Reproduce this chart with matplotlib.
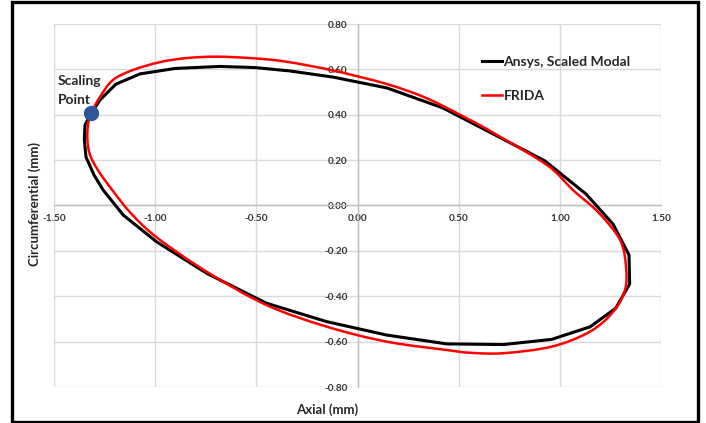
import matplotlib
matplotlib.use("Agg")
import matplotlib.pyplot as plt
from matplotlib.patches import Rectangle, PathPatch
from matplotlib.path import Path

plt.rcParams['font.family'] = ['Lato', 'DejaVu Sans']

# Ansys, Scaled Modal (polyline, clockwise from scaling point)
ansys_x = [-1.315, -1.273, -1.194, -1.075, -0.902, -0.680, -0.507, -0.334, -0.121, 0.146,
           0.422, 0.680, 0.927, 1.129, 1.263, 1.342, 1.345, 1.276, 1.149, 0.960,
           0.721, 0.441, 0.144, -0.152, -0.449, -0.745, -0.993, -1.158, -1.257, -1.302,
           -1.342, -1.350, -1.347, -1.315]
ansys_y = [0.408, 0.465, 0.535, 0.580, 0.604, 0.613, 0.608, 0.593, 0.566, 0.518,
           0.430, 0.311, 0.196, 0.051, -0.082, -0.218, -0.346, -0.453, -0.535, -0.590,
           -0.613, -0.610, -0.571, -0.512, -0.431, -0.299, -0.160, -0.042, 0.068, 0.134,
           0.214, 0.289, 0.355, 0.408]

# FRIDA (smooth orbit)
frida_x = [-1.315, -1.273, -1.209, -1.110, -0.976, -0.843, -0.695, -0.517, -0.353, -0.121,
           0.146, 0.344, 0.556, 0.670, 0.937, 1.065, 1.189, 1.298, 1.327, 1.322,
           1.264, 1.149, 0.960, 0.721, 0.556, 0.441, 0.144, -0.152, -0.449, -0.745,
           -0.993, -1.120, -1.212, -1.283, -1.322, -1.335, -1.332, -1.315]
frida_y = [0.408, 0.478, 0.553, 0.597, 0.632, 0.650, 0.656, 0.649, 0.634, 0.595,
           0.535, 0.472, 0.377, 0.321, 0.178, 0.068, -0.029, -0.152, -0.270, -0.372,
           -0.468, -0.556, -0.622, -0.651, -0.649, -0.637, -0.600, -0.534, -0.439, -0.292,
           -0.140, -0.034, 0.068, 0.156, 0.223, 0.289, 0.355, 0.408]

scaling_x = [-1.315]
scaling_y = [0.408]

x_ticks = [-1.5, -1.0, -0.5, 0.0, 0.5, 1.0, 1.5]
y_ticks = [-0.8, -0.6, -0.4, -0.2, 0.0, 0.2, 0.4, 0.6, 0.8]


def smooth_closed_path(xs, ys):
    """Smoothed line (like a spreadsheet 'smoothed line') through the points."""
    pts = list(zip(xs, ys))[:-1]  # drop duplicated closing point
    n = len(pts)
    verts = [pts[0]]
    codes = [Path.MOVETO]
    for i in range(n):
        p0 = pts[(i - 1) % n]
        p1 = pts[i]
        p2 = pts[(i + 1) % n]
        p3 = pts[(i + 2) % n]
        c1 = (p1[0] + (p2[0] - p0[0]) / 6, p1[1] + (p2[1] - p0[1]) / 6)
        c2 = (p2[0] - (p3[0] - p1[0]) / 6, p2[1] - (p3[1] - p1[1]) / 6)
        verts += [c1, c2, p2]
        codes += [Path.CURVE4] * 3
    return Path(verts, codes)


W, H = 706, 423
fig = plt.figure(figsize=(W / 100, H / 100), dpi=100)
ax = fig.add_axes([54 / W, 1 - 387 / H, (661 - 54) / W, (387 - 24) / H])

ax.set_xlim(-1.5, 1.5)
ax.set_ylim(-0.8, 0.8)
ax.set_xticks(x_ticks)
ax.set_yticks(y_ticks)
ax.set_xticklabels([f"{v:.2f}" for v in x_ticks])
ax.set_yticklabels([f"{v:.2f}" for v in y_ticks])

ax.grid(True, color='#d9d9d9', linewidth=1.0, zorder=0)
ax.set_axisbelow(True)
for s in ['top', 'right']:
    ax.spines[s].set_visible(False)
ax.spines['left'].set_position(('data', 0))
ax.spines['bottom'].set_position(('data', 0))
for s in ['left', 'bottom']:
    ax.spines[s].set_color('#bfbfbf')
    ax.spines[s].set_linewidth(1.0)

ax.tick_params(axis='both', length=0, labelsize=7.2, labelcolor='#333333')
ax.tick_params(axis='x', pad=6)
ax.tick_params(axis='y', pad=7)
for lbl in ax.get_xticklabels() + ax.get_yticklabels():
    lbl.set_fontweight('bold')

ax.plot(ansys_x, ansys_y, color='black', linewidth=2.2, label='Ansys, Scaled Modal',
        solid_joinstyle='round', zorder=3)
frida_patch = PathPatch(smooth_closed_path(frida_x, frida_y), facecolor='none',
                        edgecolor='#ff0000', linewidth=1.8, zorder=4,
                        transform=ax.transData)
ax.add_patch(frida_patch)
ax.plot([], [], color='#ff0000', linewidth=1.8, label='FRIDA')
ax.plot(scaling_x, scaling_y, 'o', color='#2f5597', markersize=10, zorder=5, clip_on=False)

leg = ax.legend(loc='upper left', bbox_to_anchor=(0.705, 0.912), frameon=False,
                handlelength=1.45, handletextpad=0.1, labelspacing=1.6,
                borderpad=0, borderaxespad=0,
                prop={'family': 'Lato', 'weight': 'bold', 'size': 10})
for t in leg.get_texts():
    t.set_color('#262626')

fig.text(58 / W, 1 - 90.5 / H, "Scaling\nPoint", ha='left', va='center',
         fontsize=10, fontweight='bold', color='#262626', linespacing=1.75)

fig.text(327 / W, 1 - 410 / H, "Axial (mm)", ha='center', va='center',
         fontsize=9.5, fontweight='bold', color='#262626')
fig.text(35 / W, 1 - 204 / H, "Circumferential (mm)", ha='center', va='center',
         rotation=90, fontsize=9.5, fontweight='bold', color='#262626')

fig.patches.append(Rectangle((12 / W, 1 / H), (698 - 12) / W, (421 - 1) / H,
                             transform=fig.transFigure, fill=False,
                             edgecolor='black', linewidth=2.4))

fig.savefig("out.png", dpi=100)
